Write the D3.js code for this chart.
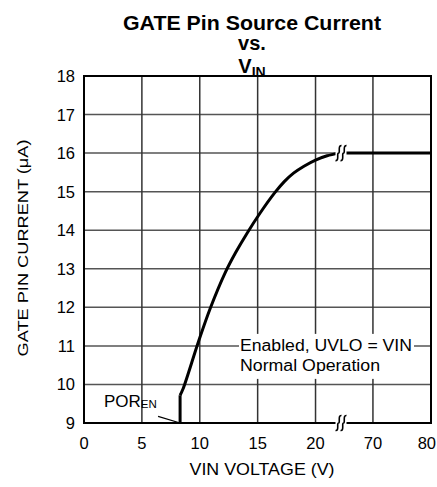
<!DOCTYPE html>
<html>
<head>
<meta charset="utf-8">
<script src="https://cdn.jsdelivr.net/npm/d3@7"></script>
<style>
  body { margin: 0; background: #fff; }
  svg { display: block; font-family: 'Liberation Sans', Arial, sans-serif; }
</style>
</head>
<body>
<div id="chart"></div>
<script>
// values
const xTicks = [0, 5, 10, 15, 20, 70, 80];
const yTicks = [9, 10, 11, 12, 13, 14, 15, 16, 17, 18];
// broken axis: left part runs to the break (~22.2 V), right part resumes at ~64.5 V
const xBreak = [22.2, 64.5];
const porStep = [[8.3, 9.0], [8.3, 9.72]];
const riseCurve = [
  [8.3, 9.72], [8.55, 9.88], [9.9, 11.12], [10.9, 11.97], [12.2, 12.9],
  [13.1, 13.42], [14.1, 13.93], [15.2, 14.44], [16.5, 14.98], [17.3, 15.26],
  [18.1, 15.48], [19.0, 15.66], [20.0, 15.82], [21.0, 15.93], [22.0, 16.0]
];
const flatPart = [[64.9, 16.0], [80, 16.0]];

const width = 437, height = 487;
const margin = { top: 76, right: 6, bottom: 64, left: 84 };
const iw = width - margin.left - margin.right;
const ih = height - margin.top - margin.bottom;

const svg = d3.select('#chart').append('svg')
  .attr('width', width)
  .attr('height', height);

const g = svg.append('g').attr('transform', `translate(${margin.left},${margin.top})`);

const x = d3.scaleLinear()
  .domain([0, xBreak[0], xBreak[1], 80])
  .range([0, iw * 257 / 347, iw * 257 / 347, iw]);
const y = d3.scaleLinear().domain([9, 18]).range([ih, 0]);

// grid
g.append('g').selectAll('line')
  .data(yTicks.slice(1, -1))
  .join('line')
  .attr('x1', 0).attr('x2', iw)
  .attr('y1', d => y(d)).attr('y2', d => y(d))
  .style('stroke', '#555').style('stroke-width', 1.5);
g.append('g').selectAll('line')
  .data(xTicks.slice(1, -1))
  .join('line')
  .attr('x1', d => x(d)).attr('x2', d => x(d))
  .attr('y1', 0).attr('y2', ih)
  .style('stroke', '#333').style('stroke-width', 1.5);

// annotation box (hides grid behind the text)
const noteX = 240 - margin.left, noteY = y(11);
g.append('rect')
  .attr('x', noteX - 1).attr('y', noteY - 12)
  .attr('width', 175).attr('height', 45)
  .style('fill', '#fff');
g.append('text')
  .attr('x', noteX).attr('y', noteY + 5)
  .attr('textLength', 172).attr('lengthAdjust', 'spacingAndGlyphs')
  .style('font-size', '16px')
  .text('Enabled, UVLO = VIN');
g.append('text')
  .attr('x', noteX).attr('y', noteY + 25)
  .attr('textLength', 140).attr('lengthAdjust', 'spacingAndGlyphs')
  .style('font-size', '16px')
  .text('Normal Operation');

// frame
g.append('rect')
  .attr('width', iw).attr('height', ih)
  .style('fill', 'none').style('stroke', '#000').style('stroke-width', 2);

// curve
const line = d3.line().x(d => x(d[0])).y(d => y(d[1]));
g.append('path').datum(porStep).attr('d', line)
  .style('fill', 'none').style('stroke', '#000').style('stroke-width', 3);
g.append('path').datum(riseCurve)
  .attr('d', d3.line().x(d => x(d[0])).y(d => y(d[1])).curve(d3.curveCatmullRom.alpha(0.5)))
  .style('fill', 'none').style('stroke', '#000').style('stroke-width', 3)
  .style('stroke-linejoin', 'round');
g.append('path').datum(flatPart).attr('d', line)
  .style('fill', 'none').style('stroke', '#000').style('stroke-width', 3);

// break marks
function breakMark(cx, cy) {
  const b = g.append('g').attr('transform', `translate(${cx},${cy})`);
  b.append('rect').attr('x', -5.5).attr('y', -8).attr('width', 11).attr('height', 16)
    .style('fill', '#fff');
  [-2.5, 2.5].forEach(dx => {
    b.append('path')
      .attr('d', `M${dx + 3},-7.5 C${dx - 1},-8 ${dx + 2},0 ${dx},0 C${dx - 2},0 ${dx + 1},8 ${dx - 3},7.5`)
      .style('fill', 'none').style('stroke', '#000').style('stroke-width', 1.6);
  });
}
breakMark(x(xBreak[0]), y(16));
breakMark(x(xBreak[0]), y(9));

// POR_EN label + leader
g.append('line')
  .attr('x1', x(6.4)).attr('y1', y(9.17))
  .attr('x2', x(8.3)).attr('y2', y(9.0))
  .style('stroke', '#000').style('stroke-width', 1.3);
const por = g.append('text').attr('x', 104 - margin.left).attr('y', 407 - margin.top)
  .style('font-size', '17px');
por.append('tspan').text('POR');
por.append('tspan').style('font-size', '11.5px').attr('dy', 1).text('EN');

// tick labels
g.append('g').selectAll('text')
  .data(yTicks)
  .join('text')
  .attr('x', -9).attr('y', d => y(d) + 6)
  .attr('text-anchor', 'end')
  .style('font-size', '16.5px')
  .text(d => d);
g.append('g').selectAll('text')
  .data(xTicks)
  .join('text')
  .attr('x', (d, i) => i === xTicks.length - 1 ? x(d) + 5 : x(d))
  .attr('y', ih + 26)
  .attr('text-anchor', (d, i) => i === xTicks.length - 1 ? 'end' : 'middle')
  .style('font-size', '16.5px')
  .text(d => d);

// axis titles
g.append('text')
  .attr('x', 262 - margin.left).attr('y', ih + 52)
  .attr('text-anchor', 'middle')
  .attr('textLength', 145).attr('lengthAdjust', 'spacingAndGlyphs')
  .style('font-size', '16px')
  .text('VIN VOLTAGE (V)');
svg.append('text')
  .attr('transform', `translate(28,${248}) rotate(-90)`)
  .attr('text-anchor', 'middle')
  .attr('textLength', 217).attr('lengthAdjust', 'spacingAndGlyphs')
  .style('font-size', '15px')
  .text('GATE PIN CURRENT (\u03BCA)');

// title
const title = svg.append('g').style('font-weight', 'bold').style('font-size', '20px');
title.append('text').attr('x', 252).attr('y', 30).attr('text-anchor', 'middle')
  .attr('textLength', 258).attr('lengthAdjust', 'spacingAndGlyphs')
  .text('GATE Pin Source Current');
title.append('text').attr('x', 252).attr('y', 50).attr('text-anchor', 'middle')
  .text('vs.');
const vin = title.append('text').attr('x', 252).attr('y', 73).attr('text-anchor', 'middle');
vin.append('tspan').text('V');
vin.append('tspan').style('font-size', '14px').attr('dy', 4).text('IN');
</script>
</body>
</html>
